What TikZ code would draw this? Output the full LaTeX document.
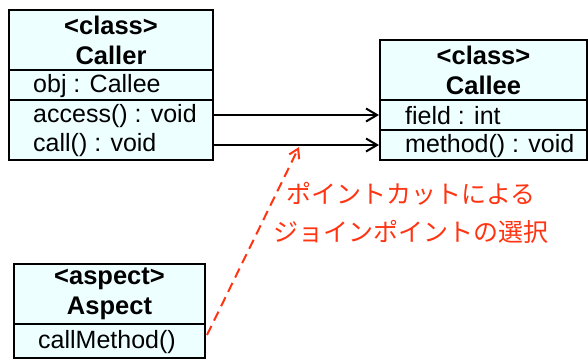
\documentclass[tikz,border=0pt]{standalone}
\usepackage{fontspec}
\setmainfont{Liberation Sans}
\newfontfamily\jafont{Noto Sans CJK JP}
\usetikzlibrary{arrows.meta}
\definecolor{boxfill}{RGB}{238,255,255}
\definecolor{pcred}{RGB}{255,52,18}

\tikzset{
    comp/.style={draw, fill=boxfill, line width=2pt, inner sep=0pt},
    head/.style={comp, align=center, font=\bfseries\fontsize{25.5}{30}\selectfont},
    member/.style={anchor=west, inner sep=0pt, font=\fontsize{25}{29}\selectfont},
    call/.style={line width=2pt, -{Straight Barb[length=11pt, width=13pt, line width=2pt]}},
    pointcut/.style={pcred, line width=2pt, dash pattern=on 10pt off 6pt,
        -{Straight Barb[length=9pt, width=11pt, line width=2pt]}},
    note/.style={text=pcred, align=center, font=\jafont\fontsize{25}{38}\selectfont}
}

\begin{document}
\begin{tikzpicture}[x=1pt, y=-1pt]
    \useasboundingbox (0,0) rectangle (588,360);

    % Caller
    \node (callerHead) [head, minimum width=204pt, minimum height=60pt] at (111,40) {<class>\\Caller};
    \node (callerAttr) [comp, minimum width=204pt, minimum height=30pt] at (111,85) {};
    \node (callerOps) [comp, minimum width=204pt, minimum height=60pt] at (111,130) {};
    \node (obj) [member] at (33,86) {obj : Callee};
    \node (access) [member] at (33,116) {access() : void};
    \node (call) [member] at (33,145) {call() : void};

    % Callee
    \node (calleeHead) [head, minimum width=207pt, minimum height=60pt] at (483.5,70) {<class>\\Callee};
    \node (field) [comp, minimum width=207pt, minimum height=30pt] at (483.5,115) {};
    \node (method) [comp, minimum width=207pt, minimum height=30pt] at (483.5,145) {};
    \node (fieldTxt) [member] at (405,116) {field : int};
    \node (methodTxt) [member] at (405,146) {method() : void};

    % Aspect
    \node (aspectHead) [head, minimum width=191pt, minimum height=60pt] at (109.5,294) {<aspect>\\Aspect};
    \node (aspectOps) [comp, minimum width=191pt, minimum height=34pt] at (109.5,341) {};
    \node (callMethod) [member] at (38,342) {callMethod()};

    \coordinate (cmOut) at (207,335);
    \coordinate (jp) at (299,147);

    \node (note) [note] at (411,213) {ポイントカットによる\\ジョインポイントの選択};

    \draw[call] (callerOps.east |- field.west) -- (field.west);
    \draw[call] (callerOps.east |- method.west) -- (method.west);
    \draw[pointcut] (cmOut) -- (jp);
\end{tikzpicture}
\end{document}
